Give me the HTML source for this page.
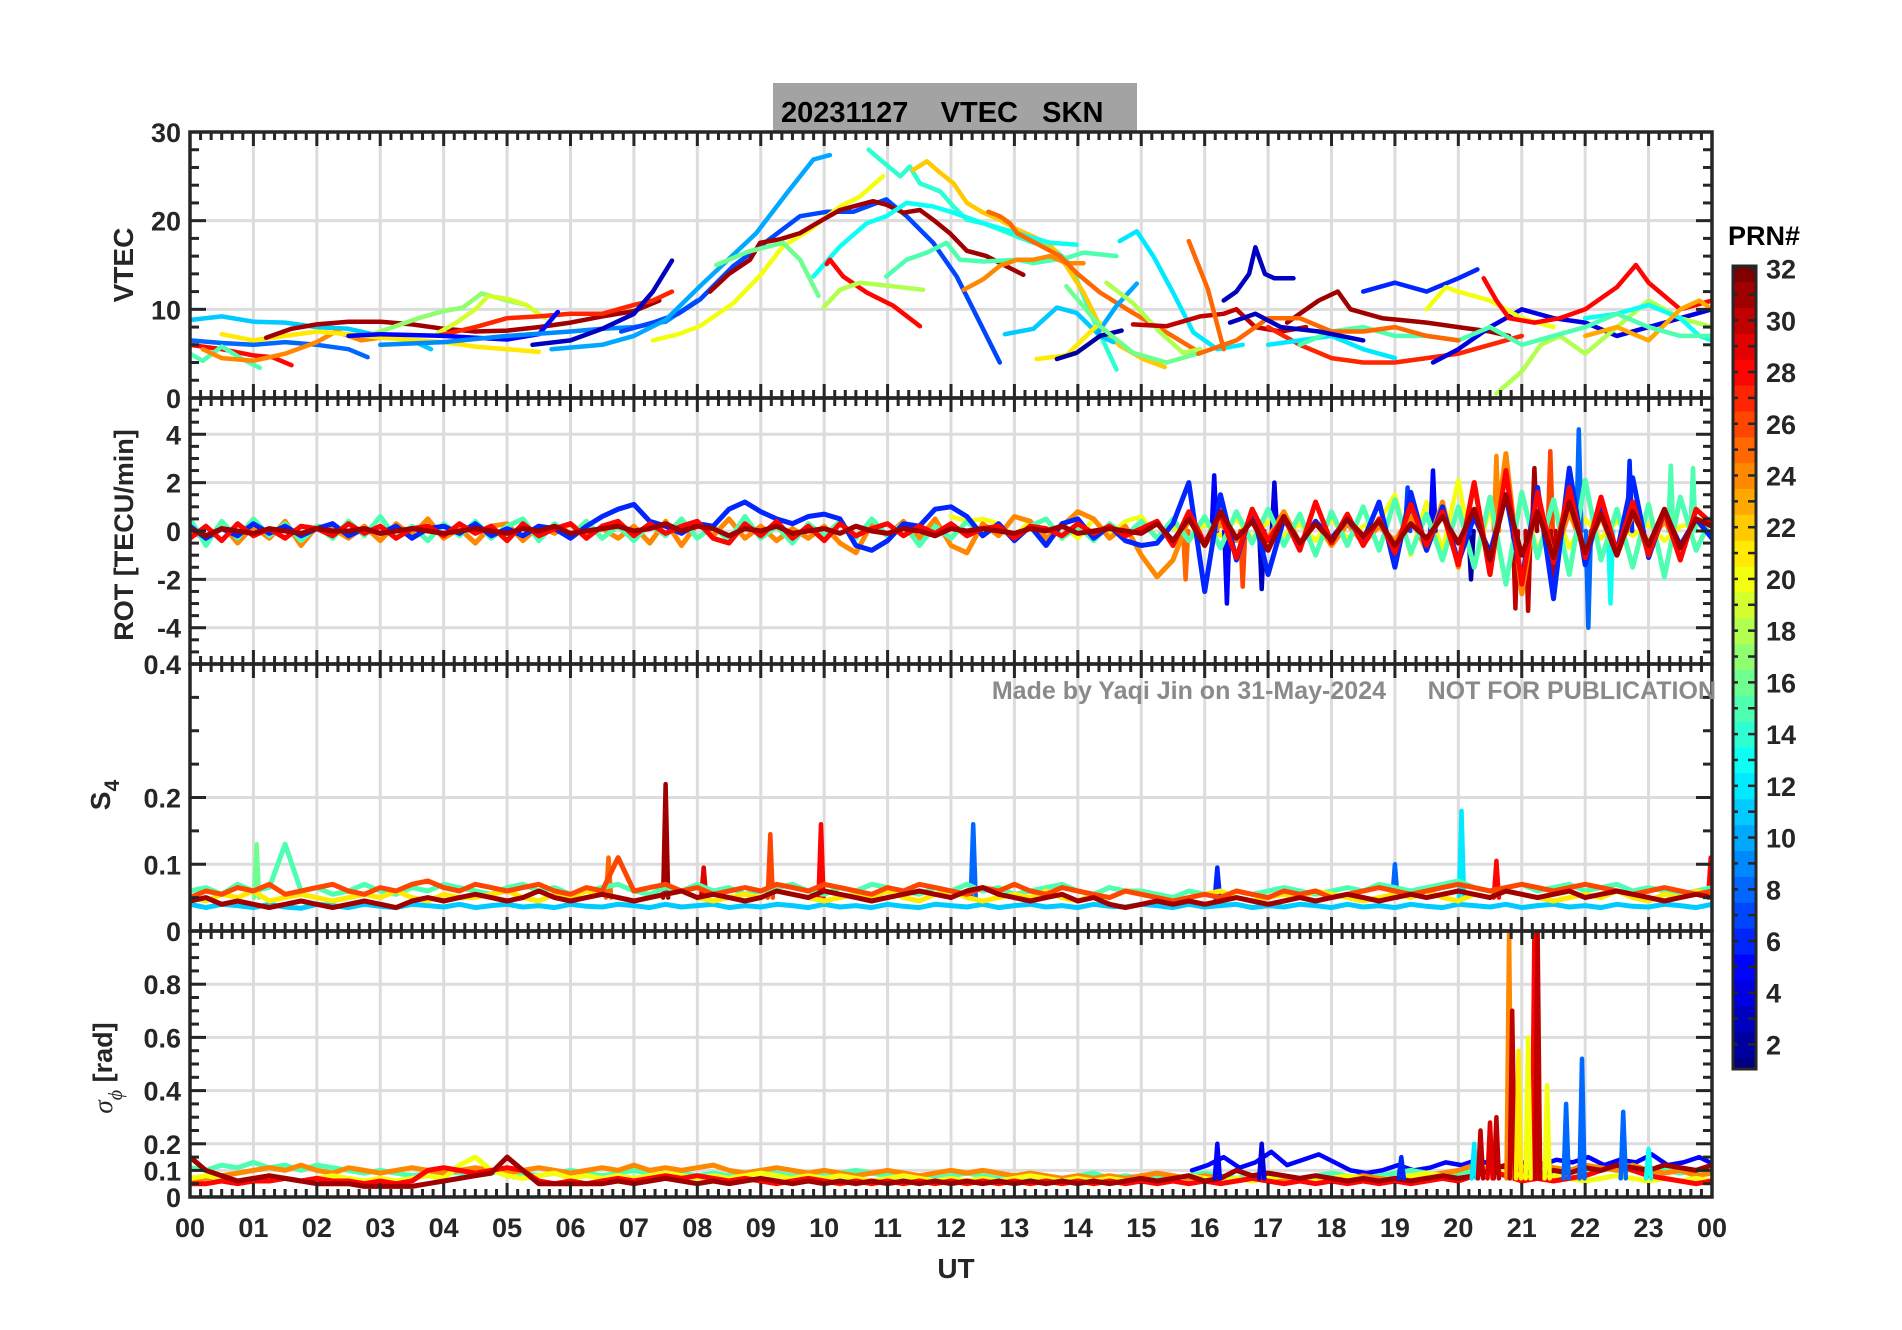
<!DOCTYPE html>
<html><head><meta charset="utf-8"><title>VTEC SKN 20231127</title>
<style>
html,body{margin:0;padding:0;background:#fff;}
svg{display:block;font-family:"Liberation Sans",Arial,sans-serif;font-weight:bold;}
</style></head>
<body>
<svg id="chart" width="1902" height="1330" viewBox="0 0 1902 1330" xmlns="http://www.w3.org/2000/svg">
<rect x="0" y="0" width="1902" height="1330" fill="#fff"/>
<rect x="773" y="83" width="364" height="50" fill="#a3a3a3"/>
<text x="781" y="122" font-size="29" fill="#000" xml:space="preserve">20231127    VTEC   SKN</text>
<g id="grid"></g>
<g id="series"></g>
<g id="axes"></g>
<text x="1386" y="699" text-anchor="end" font-size="25" fill="#8a8a8a">Made by Yaqi Jin on 31-May-2024</text>
<text x="1716" y="699" text-anchor="end" font-size="25" fill="#8a8a8a">NOT FOR PUBLICATION</text>
<text x="956" y="1278" text-anchor="middle" font-size="28" fill="#262626">UT</text>
<text transform="translate(133,265) rotate(-90)" text-anchor="middle" font-size="28" fill="#262626">VTEC</text>
<text transform="translate(133,535) rotate(-90)" text-anchor="middle" font-size="27" fill="#262626">ROT [TECU/min]</text>
<text transform="translate(110,795) rotate(-90)" text-anchor="middle" font-size="28" fill="#262626">S<tspan dy="9" font-size="21">4</tspan></text>
<text transform="translate(112,1068) rotate(-90)" text-anchor="middle" font-size="27" fill="#262626"><tspan font-style="italic" font-family="Liberation Serif, serif" font-weight="normal">σ</tspan><tspan dy="10" font-size="20" font-style="italic" font-family="Liberation Serif, serif" font-weight="normal">ϕ</tspan><tspan dy="-10"> [rad]</tspan></text>
<g id="colorbar"></g>
</svg>
<script>
// ---------- DATA ----------
const hourLabels=["00","01","02","03","04","05","06","07","08","09","10","11","12","13","14","15","16","17","18","19","20","21","22","23","00"];
const vtecTicks=[0,10,20,30];
const rotTicks=[-4,-2,0,2,4];
const s4Ticks=[0,0.1,0.2,0.4];
const sigTicks=[0,0.1,0.2,0.4,0.6,0.8];
const prnTicks=[2,4,6,8,10,12,14,16,18,20,22,24,26,28,30,32];

const vtecPrn=[11,8,28,15,24,21,31,17,19,27,5,9,3,7,10,20,31,14,22,13,16,28,18,15,24,25,11,10,12,21,2,18,16,30,3,25,27,31,6,4,20,28,18,13,23,12,15,25,3];
const vtecTracks=[
[[0,8.8],[0.5,9.2],[1,8.6],[1.5,8.5],[2,8],[2.5,7.8],[3,7],[3.5,6.5],[3.8,5.5]],
[[0,6.5],[0.5,6.2],[1,6],[1.5,6.3],[2,6],[2.5,5.5],[2.8,4.6]],
[[0,6],[0.5,5.5],[1,4.8],[1.3,4.6],[1.6,3.7]],
[[0,5],[0.2,4.2],[0.5,5.8],[0.8,4.5],[1.1,3.4]],
[[0.2,5.5],[0.5,4.5],[1,4.2],[1.5,5],[2,6.3],[2.3,7.5],[2.7,6.5],[3,6.8]],
[[0.5,7.2],[1,6.5],[1.5,7],[2,7.5],[2.5,7.2],[3,6.8],[4,6.3],[4.5,5.8],[5,5.5],[5.5,5.2]],
[[1.2,6.8],[1.6,7.8],[2,8.3],[2.5,8.6],[3,8.6],[3.5,8.3],[4,7.8],[4.5,7.5],[5,7.6],[5.5,8],[6,8.5],[6.5,9.2],[7,9.8],[7.4,11]],
[[2.8,7],[3.2,8],[3.6,9],[4,9.8],[4.3,10.2],[4.6,11.8],[5,11],[5.3,10.5]],
[[3.9,7.3],[4.2,8.5],[4.5,10],[4.7,11.5],[5,11.2],[5.3,10.5],[5.6,9]],
[[3.9,7],[4.5,8],[5,9],[5.5,9.2],[6,9.5],[6.5,9.5],[7,10.5],[7.3,11],[7.6,12]],
[[2.5,7],[3,7.2],[4,7],[4.5,6.8],[5,6.6],[5.5,7.2],[5.8,9.7]],
[[3,6],[4,6.3],[5,7],[6,7.5],[6.5,7.8],[7,8],[7.5,8.6],[8,11]],
[[5.4,6],[6,6.5],[6.5,7.8],[7,9.5],[7.3,12],[7.6,15.5]],
[[6.8,7.5],[7.3,8.5],[7.7,9.5],[8.04,11.1],[8.57,14.9],[8.99,17.1],[9.62,20.5],[10.04,21],[10.46,21],[10.98,22.4],[11.3,20.5],[11.72,17.5],[12.09,13.7],[12.35,10],[12.77,4]],
[[5.7,5.5],[6.5,6],[7,7],[7.5,8.8],[8.04,12.6],[8.93,18.6],[9.41,23.1],[9.83,26.9],[10.09,27.4]],
[[7.3,6.5],[7.7,7.2],[8.04,8.1],[8.57,10.7],[8.99,13.8],[9.35,17.1],[9.78,19],[10.25,21.6],[10.56,22.7],[10.93,25]],
[[8.2,12],[8.5,14],[8.83,15.6],[8.99,17.5],[9.3,17.9],[9.62,18.6],[9.88,19.7],[10.25,21.2],[10.77,22.2],[10.98,21.8],[11.25,20.9],[11.51,21.2],[11.72,20.1],[11.98,18.6],[12.25,16.6],[12.56,16],[13.14,13.9]],
[[10.7,28],[10.88,26.9],[11.2,25],[11.35,26.1],[11.51,24.2],[11.83,23.3],[12.04,21.6],[12.25,20.1],[12.51,19.7],[12.77,19],[13.04,18.2],[13.3,17.5],[13.56,17.1],[13.82,15.6],[13.98,13.4],[14.24,8.9],[14.61,3.2]],
[[11.4,25.7],[11.62,26.7],[11.83,25.4],[12.04,24.2],[12.25,22],[12.51,20.9],[12.77,20.1],[13.04,19],[13.3,18.2],[13.56,17.3],[13.82,14.9],[14.09,11.9],[14.35,8.1],[14.66,5.9],[15.03,4.4],[15.37,3.5]],
[[9.83,13.7],[10.25,17.1],[10.67,19.7],[10.98,20.5],[11.3,22],[11.72,21.6],[12.04,20.9],[12.51,19.7],[13.04,18.6],[13.56,17.5],[13.98,17.3]],
[[8.3,15],[8.8,16.5],[9.35,17.5],[9.62,15.6],[9.91,11.5]],
[[10.04,15.1],[10.09,15.6],[10.3,13.7],[10.67,11.9],[11.09,10.4],[11.51,8.1]],
[[9.99,10.2],[10.25,12.2],[10.56,13],[11.09,12.6],[11.56,12.2]],
[[10.98,13.7],[11.3,15.6],[11.62,16.4],[11.93,17.5],[12.14,15.6],[12.51,15.4],[13.04,15.6],[13.3,15.2],[13.82,15.8],[14.09,16.4],[14.61,16]],
[[12.2,12.2],[12.51,13.4],[12.77,14.9],[13.04,15.6],[13.3,15.6],[13.56,16],[13.82,15.2],[14.09,15.2]],
[[12.59,21],[12.77,20.5],[12.93,19.7],[13.04,18.6],[13.72,16],[13.98,14.1],[14.35,11.9],[14.87,9.6],[15.4,7.4],[15.93,5.1]],
[[12.85,7.2],[13.3,7.8],[13.67,10.2],[13.98,9.6],[14.35,7],[14.56,6.3]],
[[14.32,7.4],[14.61,10.4],[14.93,12.9]],
[[14.66,17.7],[14.93,18.8],[15.19,16],[15.5,11.9],[15.82,7.4],[16.2,5.5],[16.6,6]],
[[13.35,4.4],[13.82,4.8],[14.19,7.4],[14.35,8.5]],
[[13.67,4.4],[13.98,5.1],[14.35,7],[14.69,7.6]],
[[14.45,13],[14.87,10.7],[15.3,7.4],[15.66,5.1],[15.93,5.5]],
[[13.82,12.6],[14.35,8.1],[14.87,5.1],[15.4,4],[15.93,5.1]],
[[14.87,8.3],[15.4,8.1],[15.93,9.2],[16.3,9.5],[16.5,10],[16.8,8],[17.2,7.5],[17.6,8]],
[[16.3,11],[16.5,12],[16.7,14],[16.8,17],[16.95,14],[17.1,13.5],[17.4,13.5]],
[[15.75,17.7],[16.05,12.3],[16.3,5.5]],
[[17,8],[17.5,6],[18,4.5],[18.5,4],[19,4],[19.5,4.5],[20,5],[20.5,6],[21,7]],
[[17.3,8.5],[17.8,11],[18.1,12],[18.3,10],[18.8,9],[19.5,8.5],[20,8],[20.5,7.5],[20.8,7]],
[[18.5,12],[19,13],[19.5,12],[20,13.5],[20.3,14.5]],
[[19.6,4],[20,5.5],[20.5,8],[21,10],[21.5,9],[22,8.5],[22.5,7],[23,8],[23.5,9],[24,10]],
[[19.5,10],[19.8,12.5],[20,12],[20.5,11],[21,9],[21.5,8]],
[[20.4,13.5],[20.6,11],[20.8,9],[21.2,8.5],[21.6,9],[22,10],[22.5,12.5],[22.8,15],[23,13],[23.5,10],[24,11]],
[[20.6,0.5],[21,3],[21.3,6],[21.6,7],[22,5],[22.5,8],[23,11],[23.5,9],[24,8]],
[[22,9],[22.5,9.5],[23,10.5],[23.5,9],[23.8,7],[24,6.5]],
[[22,7],[22.5,8],[23,6.5],[23.5,10],[23.8,11],[24,10]],
[[17,6],[17.5,6.5],[18,7],[18.5,5.5],[19,4.5]],
[[17.5,6],[18,7.5],[18.5,8],[19,7],[19.5,7],[20,6.5],[20.5,8],[21,6],[21.5,7],[22,8],[22.5,9.5],[23,8],[23.5,7],[24,7]],
[[15.9,5],[16.5,6.5],[17,9],[17.5,9],[18,7.5],[18.5,7.5],[19,8],[19.5,7],[20,6.5]],
[[16.4,8.5],[16.8,9.5],[17.2,8],[17.8,7.5],[18.5,6.5]]
];

const rotPrn=[31,28,15,6,24];
const rotStep=0.25;
const rotSeries=[
[0.1,-0.2,0.1,0,-0.1,0.1,0,-0.1,0.1,0,0,0.1,-0.1,0,0.1,0,-0.1,0,0.1,0,-0.1,0.1,0,0.2,-0.1,0,0.1,0.2,0,0.1,0.3,0,0.2,0.1,-0.2,0.1,0,0.2,-0.1,0,0.1,-0.1,0.2,0,-0.1,0.1,0,-0.2,0.1,0,0.1,0,-0.1,0.1,0,0.2,-0.1,0,0.1,0,-0.1,0.3,-0.4,0.5,-0.6,0.8,-0.3,0.4,-0.8,0.6,-0.5,0.3,-0.4,0.5,-0.2,0.4,-0.6,0.3,-0.3,0.6,-0.5,0.9,-1.2,1.5,-1.0,0.8,-1.1,1.2,-0.9,0.7,-1.0,0.8,-0.6,0.9,-0.7,0.5,0.2],
[-0.3,0.2,-0.4,0.3,-0.2,0.1,-0.3,0.2,0.1,-0.2,0.3,-0.1,0.2,-0.3,0.1,0.2,-0.2,0.3,-0.1,0.2,-0.4,0.3,-0.2,0.1,0.3,-0.3,0.2,0.4,-0.2,0.3,-0.1,0.2,0.4,-0.3,-0.5,0.3,-0.2,0.4,-0.3,0.2,-0.4,0.3,-0.2,0.1,0.3,-0.2,0.2,-0.1,0.3,-0.2,0.1,0.2,-0.3,0.2,0.1,-0.2,0.3,-0.1,0.2,-0.2,0.1,0.4,-0.6,0.8,-0.5,0.7,-1.1,0.9,-0.4,0.6,-0.8,1.2,-0.5,0.7,-0.6,0.5,-0.9,1.1,-0.6,0.8,-1.4,2.0,-1.8,2.5,-2.2,1.6,-1.3,1.8,-1.1,1.4,-0.9,1.2,-1.0,0.8,-1.2,0.9,0.3],
[0.5,-0.6,0.4,-0.3,0.5,-0.2,0.3,-0.4,0.2,-0.3,0.4,-0.2,0.6,-0.3,0.2,-0.4,0.3,-0.2,0.4,-0.3,0.2,0.5,-0.4,0.3,-0.2,0.4,-0.3,0.2,-0.4,0.3,-0.2,0.5,-0.3,0.2,-0.4,0.6,-0.3,0.2,-0.5,0.3,-0.2,0.4,-0.3,0.5,-0.2,0.3,-0.6,0.2,-0.3,0.4,-0.2,0.3,-0.4,0.2,0.5,-0.3,0.2,-0.4,0.3,-0.2,0.4,-0.3,0.5,-0.4,0.6,-0.7,0.8,-0.5,0.9,-0.6,0.7,-1.0,0.8,-0.6,1.0,-0.8,1.3,-0.9,0.7,-1.2,1.0,-1.5,1.4,-2.2,1.6,-1.1,1.3,-1.8,2.1,-1.2,0.9,-1.5,1.1,-1.9,1.4,-0.8,0.6],
[0.2,-0.3,0.1,-0.2,0.3,-0.1,0.2,-0.2,0.1,0.3,-0.2,0.1,-0.1,0.2,-0.3,0.1,0.2,-0.1,0.3,-0.2,0.1,-0.2,0.2,0.1,-0.3,0.2,0.6,0.9,1.1,0.4,0.2,-0.1,0.3,0.2,0.9,1.2,0.8,0.5,0.3,0.6,0.7,0.5,-0.6,-0.8,-0.4,0.3,0.2,0.9,1.0,0.6,-0.2,0.3,-0.4,0.2,-0.6,0.3,0.5,-0.3,0.2,-0.4,-0.6,-0.5,0.3,2.0,-2.5,1.5,-1.2,0.9,-1.8,0.5,-0.6,0.4,-0.3,0.5,-0.4,1.2,-1.5,1.6,-0.8,1.0,-1.3,0.6,-0.9,1.5,-2.0,1.8,-2.8,2.6,-1.4,1.2,-0.9,2.2,-1.1,0.8,-0.6,0.5,-0.3],
[0.1,-0.4,0.3,-0.5,0.2,-0.3,0.4,-0.6,0.2,0.1,-0.3,0.2,-0.4,0.3,-0.2,0.5,-0.3,0.1,-0.5,0.2,0.3,-0.4,0.2,-0.1,0.3,-0.2,0.1,-0.3,0.2,-0.5,0.4,-0.6,0.3,-0.2,0.5,-0.3,0.2,-0.4,0.1,-0.3,0.2,-0.5,-0.9,0.3,-0.2,0.4,-0.3,0.5,-0.6,-0.9,0.3,-0.2,0.6,0.4,-0.3,0.2,0.8,0.5,-0.3,0.2,-1.0,-1.9,-1.2,0.5,-0.6,0.3,-0.4,0.6,-0.3,0.8,-0.5,0.4,-0.6,0.3,-0.5,0.2,-0.4,0.6,-0.8,1.2,-1.5,2.0,-1.8,3.2,-2.6,1.5,-1.2,0.8,-0.9,0.6,-1.0,0.7,-0.5,0.4,-0.6,0.5,0.3]
];
const rotYellowStart=12;
const rotYellow=[0.6,0.4,0.5,0.3,-0.2,0.4,-0.5,0.3,-0.3,0.5,-0.2,0.4,0.6,-0.3,0.2,-0.4,0.3,-0.2,0.5,-0.3,0.4,-0.2,0.3,-0.4,0.5,-0.3,0.2,0.4,1.5,-1.0,1.2,-0.8,2.1,-1.5,1.0,-2.2,1.6,-0.9,1.2,-0.7,0.5,-0.3,0.4,-0.2,0.3,-0.4,0.2,0.3,-0.1];
const rotSpikeHours=[16.15,16.35,16.6,16.9,17.1,15.7,19.6,20.6,20.9,21.1,21.45,21.5,21.9,22.05,22.7,23.35,20.2,19.2,21.2,22.4,23.7];
const rotSpikeValues=[2.3,-3.0,-2.3,-2.4,2.0,-2.0,2.5,3.1,-3.2,-3.3,3.3,-2.6,4.2,-4.0,2.9,2.7,-2.0,1.8,2.6,-3.0,2.6];
const rotSpikePrn=[5,5,26,3,4,25,5,24,30,30,26,30,8,8,6,15,2,7,31,13,15];

const s4Prn=[11,15,21,26,31];
const s4Step=0.25;
const s4Series=[
[0.04,0.035,0.04,0.038,0.035,0.04,0.036,0.034,0.04,0.038,0.035,0.04,0.037,0.035,0.04,0.038,0.036,0.04,0.035,0.038,0.04,0.036,0.038,0.035,0.04,0.037,0.036,0.04,0.038,0.035,0.04,0.036,0.038,0.04,0.035,0.038,0.036,0.04,0.038,0.035,0.04,0.036,0.038,0.035,0.04,0.037,0.035,0.04,0.038,0.036,0.04,0.035,0.038,0.04,0.036,0.038,0.035,0.04,0.037,0.036,0.04,0.038,0.035,0.04,0.036,0.038,0.04,0.035,0.038,0.036,0.04,0.038,0.035,0.04,0.036,0.038,0.035,0.04,0.037,0.035,0.04,0.038,0.036,0.04,0.035,0.038,0.04,0.036,0.038,0.035,0.04,0.037,0.036,0.04,0.038,0.035,0.04],
[0.06,0.065,0.055,0.07,0.06,0.065,0.13,0.06,0.065,0.055,0.06,0.07,0.06,0.055,0.065,0.06,0.07,0.065,0.06,0.055,0.065,0.07,0.06,0.065,0.055,0.06,0.065,0.07,0.06,0.055,0.065,0.06,0.07,0.06,0.065,0.055,0.06,0.065,0.07,0.06,0.055,0.065,0.06,0.07,0.065,0.06,0.055,0.065,0.06,0.07,0.06,0.065,0.055,0.06,0.065,0.07,0.06,0.055,0.065,0.06,0.06,0.055,0.05,0.06,0.055,0.05,0.06,0.055,0.06,0.065,0.06,0.055,0.06,0.065,0.06,0.07,0.065,0.06,0.065,0.07,0.075,0.065,0.06,0.065,0.07,0.06,0.065,0.07,0.06,0.065,0.07,0.06,0.065,0.06,0.055,0.06,0.065],
[0.05,0.045,0.055,0.05,0.06,0.045,0.05,0.055,0.05,0.045,0.05,0.055,0.05,0.06,0.05,0.045,0.055,0.05,0.05,0.055,0.06,0.05,0.045,0.055,0.05,0.06,0.055,0.05,0.045,0.05,0.055,0.06,0.05,0.045,0.05,0.055,0.05,0.06,0.055,0.05,0.045,0.05,0.055,0.05,0.06,0.05,0.045,0.055,0.06,0.05,0.045,0.05,0.055,0.05,0.06,0.05,0.045,0.055,0.05,0.06,0.055,0.05,0.045,0.05,0.055,0.06,0.05,0.045,0.05,0.055,0.05,0.06,0.055,0.05,0.045,0.05,0.055,0.05,0.06,0.05,0.045,0.055,0.05,0.06,0.055,0.05,0.045,0.05,0.055,0.05,0.06,0.05,0.045,0.055,0.05,0.06,0.055],
[0.05,0.06,0.055,0.065,0.06,0.07,0.055,0.06,0.065,0.07,0.06,0.055,0.065,0.06,0.07,0.075,0.065,0.06,0.07,0.065,0.06,0.065,0.07,0.06,0.055,0.065,0.06,0.11,0.06,0.065,0.07,0.06,0.065,0.055,0.06,0.065,0.06,0.07,0.065,0.06,0.07,0.065,0.06,0.055,0.065,0.06,0.07,0.065,0.06,0.055,0.065,0.06,0.07,0.06,0.055,0.065,0.06,0.055,0.05,0.06,0.055,0.05,0.045,0.05,0.055,0.05,0.06,0.055,0.05,0.06,0.055,0.06,0.05,0.055,0.06,0.065,0.06,0.055,0.06,0.065,0.07,0.065,0.06,0.065,0.07,0.065,0.06,0.065,0.07,0.065,0.06,0.055,0.06,0.065,0.06,0.055,0.06],
[0.045,0.05,0.04,0.045,0.04,0.035,0.04,0.045,0.04,0.035,0.04,0.045,0.04,0.035,0.045,0.05,0.045,0.05,0.055,0.05,0.045,0.05,0.06,0.05,0.045,0.05,0.055,0.05,0.045,0.05,0.055,0.06,0.05,0.055,0.05,0.045,0.05,0.06,0.055,0.05,0.06,0.055,0.05,0.045,0.05,0.055,0.06,0.055,0.05,0.06,0.065,0.055,0.05,0.045,0.05,0.055,0.045,0.05,0.04,0.035,0.04,0.045,0.04,0.045,0.04,0.045,0.05,0.045,0.04,0.045,0.05,0.045,0.05,0.055,0.05,0.045,0.05,0.055,0.05,0.055,0.06,0.055,0.05,0.06,0.055,0.05,0.055,0.06,0.05,0.055,0.06,0.055,0.05,0.045,0.05,0.055,0.05]
];
const s4SpikeHours=[7.5,9.15,9.95,6.6,12.35,20.05,1.05,20.6,23.98,16.2,8.1,19.0];
const s4SpikeValues=[0.22,0.145,0.16,0.11,0.16,0.18,0.13,0.105,0.11,0.095,0.095,0.1];
const s4SpikePrn=[31,26,28,25,8,12,16,28,28,6,29,8];

const sigPrn=[15,24,20,28,31];
const sigStep=0.25;
const sigSeries=[
[0.11,0.1,0.12,0.11,0.13,0.11,0.12,0.1,0.12,0.11,0.1,0.09,0.1,0.09,0.08,0.09,0.1,0.09,0.08,0.09,0.1,0.09,0.08,0.09,0.1,0.09,0.08,0.09,0.1,0.09,0.08,0.09,0.08,0.09,0.08,0.09,0.1,0.09,0.08,0.09,0.08,0.09,0.1,0.09,0.08,0.09,0.08,0.07,0.08,0.09,0.08,0.07,0.08,0.07,0.08,0.07,0.08,0.09,0.07,0.08,0.07,0.08,0.07,0.08,0.09,0.08,0.07,0.08,0.09,0.08,0.07,0.08,0.09,0.08,0.07,0.08,0.09,0.1,0.09,0.08,0.09,0.1,0.09,0.08,0.09,0.1,0.11,0.1,0.09,0.1,0.11,0.1,0.09,0.1,0.09,0.1,0.09],
[0.06,0.07,0.08,0.09,0.1,0.11,0.1,0.12,0.1,0.09,0.11,0.1,0.09,0.1,0.11,0.1,0.09,0.1,0.11,0.1,0.09,0.1,0.11,0.1,0.09,0.1,0.11,0.1,0.12,0.1,0.11,0.1,0.11,0.12,0.1,0.09,0.1,0.11,0.1,0.09,0.1,0.09,0.08,0.09,0.1,0.09,0.08,0.09,0.1,0.09,0.1,0.09,0.08,0.09,0.08,0.07,0.08,0.07,0.08,0.07,0.08,0.09,0.08,0.07,0.08,0.07,0.06,0.07,0.06,0.07,0.06,0.07,0.06,0.07,0.08,0.07,0.06,0.07,0.08,0.09,0.1,0.12,0.1,0.09,0.11,0.13,0.11,0.1,0.12,0.11,0.1,0.12,0.1,0.09,0.1,0.08,0.09],
[0.07,0.08,0.07,0.06,0.07,0.08,0.07,0.06,0.07,0.08,0.07,0.06,0.07,0.06,0.07,0.08,0.07,0.12,0.15,0.1,0.08,0.07,0.08,0.09,0.07,0.08,0.07,0.08,0.07,0.08,0.09,0.08,0.07,0.08,0.07,0.08,0.09,0.08,0.07,0.08,0.07,0.08,0.07,0.06,0.07,0.08,0.07,0.06,0.07,0.06,0.07,0.06,0.07,0.08,0.07,0.06,0.07,0.06,0.07,0.06,0.07,0.06,0.07,0.08,0.07,0.06,0.07,0.06,0.07,0.08,0.07,0.06,0.07,0.08,0.07,0.06,0.07,0.08,0.09,0.08,0.07,0.08,0.1,0.09,0.08,0.07,0.08,0.07,0.06,0.07,0.08,0.07,0.06,0.07,0.06,0.07,0.06],
[0.05,0.05,0.06,0.05,0.06,0.06,0.07,0.06,0.07,0.06,0.06,0.05,0.06,0.05,0.06,0.1,0.11,0.1,0.09,0.1,0.11,0.1,0.06,0.05,0.06,0.05,0.06,0.07,0.06,0.07,0.08,0.07,0.08,0.07,0.06,0.07,0.06,0.05,0.06,0.07,0.06,0.05,0.06,0.05,0.06,0.05,0.06,0.05,0.06,0.05,0.06,0.05,0.06,0.05,0.06,0.05,0.06,0.05,0.06,0.05,0.06,0.05,0.06,0.05,0.06,0.05,0.06,0.07,0.06,0.05,0.06,0.05,0.06,0.05,0.06,0.05,0.06,0.05,0.06,0.07,0.06,0.08,0.1,0.08,0.06,0.07,0.06,0.07,0.08,0.1,0.12,0.1,0.08,0.07,0.06,0.05,0.06],
[0.15,0.1,0.08,0.06,0.07,0.08,0.07,0.06,0.05,0.05,0.05,0.04,0.04,0.04,0.04,0.05,0.06,0.07,0.08,0.09,0.15,0.1,0.05,0.05,0.05,0.05,0.05,0.06,0.05,0.06,0.07,0.06,0.05,0.06,0.05,0.06,0.07,0.06,0.05,0.06,0.05,0.06,0.05,0.06,0.05,0.06,0.05,0.06,0.05,0.06,0.05,0.06,0.05,0.06,0.05,0.06,0.05,0.06,0.05,0.06,0.07,0.06,0.07,0.08,0.06,0.07,0.1,0.08,0.09,0.08,0.07,0.08,0.07,0.06,0.07,0.06,0.07,0.06,0.07,0.08,0.07,0.08,0.1,0.12,0.1,0.08,0.1,0.09,0.11,0.1,0.12,0.11,0.1,0.12,0.11,0.1,0.12]
];
const sigBlueStart=15.8;
const sigBlue=[0.1,0.12,0.15,0.11,0.13,0.17,0.12,0.14,0.16,0.13,0.1,0.09,0.1,0.12,0.1,0.11,0.13,0.12,0.14,0.12,0.11,0.13,0.12,0.14,0.13,0.15,0.12,0.14,0.13,0.16,0.12,0.13,0.15,0.12,0.11];
const sigSpikeHours=[20.8,20.85,21.2,21.25,21.4,21.95,22.6,20.6,20.5,21.1,20.25,16.2,16.9,20.35,21.7,20.95,19.1,23.0];
const sigSpikeValues=[1.0,0.7,1.0,1.0,0.42,0.52,0.32,0.3,0.28,0.6,0.2,0.2,0.2,0.25,0.35,0.55,0.15,0.18];
const sigSpikePrn=[24,30,28,30,20,8,8,30,29,20,12,5,4,30,8,21,6,13];

// ---------- AXES ----------
const X0=190,X1=1712;
const panels=[
 {name:'vtec',top:132,bot:398,min:0,max:30,ticks:vtecTicks,minor:2},
 {name:'rot',top:398,bot:664,min:-5.5,max:5.5,ticks:rotTicks,minor:0.5},
 {name:'s4',top:664,bot:931,min:0,max:0.4,ticks:s4Ticks,minor:0.05},
 {name:'sigma',top:931,bot:1197,min:0,max:1,ticks:sigTicks,minor:0.05}
];
function xs(h){return X0+(X1-X0)*h/24;}
function ys(p,v){return p.bot-(p.bot-p.top)*(v-p.min)/(p.max-p.min);}
function jet(prn){
  const t=Math.max(0,Math.min(1,(prn-1)/31));
  const f=x=>Math.round(255*Math.max(0,Math.min(1,1.5-Math.abs(4*t-x))));
  return `rgb(${f(3)},${f(2)},${f(1)})`;
}
const NS='http://www.w3.org/2000/svg';
function mk(tag,attrs,parent){const e=document.createElementNS(NS,tag);for(const k in attrs)e.setAttribute(k,attrs[k]);parent.appendChild(e);return e;}
const gGrid=document.getElementById('grid'),gSer=document.getElementById('series'),gAx=document.getElementById('axes'),gCb=document.getElementById('colorbar');
const defs=mk('defs',{},document.getElementById('chart'));
const AX='#262626';

panels.forEach((p,pi)=>{
  const cp=mk('clipPath',{id:'clip'+pi},defs);
  mk('rect',{x:X0,y:p.top,width:X1-X0,height:p.bot-p.top},cp);
  for(let h=1;h<24;h++){const l=mk('line',{x1:xs(h),x2:xs(h),y1:p.top,y2:p.bot,stroke:'#dcdcdc','stroke-width':3},gGrid);
    
    }
  p.ticks.forEach(v=>{if(v>p.min&&v<p.max){const l=mk('line',{x1:X0,x2:X1,y1:ys(p,v),y2:ys(p,v),stroke:'#dcdcdc','stroke-width':3},gGrid);
    
    }});
});

function drawSeries(pi,pts,prn,name,w){
  const p=panels[pi];
  const d=pts.map((q,i)=>(i?'L':'M')+xs(q[0]).toFixed(1)+' '+ys(p,q[1]).toFixed(1)).join(' ');
  const e=mk('path',{d:d,fill:'none',stroke:jet(prn),'stroke-width':w||4.5,'stroke-linejoin':'round','stroke-linecap':'round','clip-path':'url(#clip'+pi+')'},gSer);
  
  
}
function stepPts(start,step,vals){return vals.map((v,i)=>[start+i*step,v]);}
function drawSpikes(pi,hours,vals,prns,base,name){
  hours.forEach((h,i)=>{drawSeries(pi,[[h-0.04,base],[h,vals[i]],[h+0.04,base]],prns[i],name,4.5);});
}
vtecTracks.forEach((t,i)=>drawSeries(0,t,vtecPrn[i],'vtec-line-prn'+vtecPrn[i],4.5));
drawSeries(1,stepPts(rotYellowStart,rotStep,rotYellow),20,'rot-line-prn20',4.5);
drawSpikes(1,rotSpikeHours,rotSpikeValues,rotSpikePrn,0,'rot-spike');
[4,2,3,1,0].forEach(i=>drawSeries(1,stepPts(0,rotStep,rotSeries[i]),rotPrn[i],'rot-line-prn'+rotPrn[i],5));
drawSpikes(2,s4SpikeHours,s4SpikeValues,s4SpikePrn,0.05,'s4-spike');
s4Series.forEach((s,i)=>drawSeries(2,stepPts(0,s4Step,s),s4Prn[i],'s4-line-prn'+s4Prn[i],5));
drawSeries(3,stepPts(sigBlueStart,sigStep,sigBlue),5,'sigma-line-prn5',4.5);
sigSeries.forEach((s,i)=>drawSeries(3,stepPts(0,sigStep,s),sigPrn[i],'sigma-line-prn'+sigPrn[i],5));
drawSpikes(3,sigSpikeHours,sigSpikeValues,sigSpikePrn,0.07,'sigma-spike');

panels.forEach((p,pi)=>{
  const fr=mk('rect',{x:X0,y:p.top,width:X1-X0,height:p.bot-p.top,fill:'none',stroke:AX,'stroke-width':3.5},gAx);
  
  
  for(let m=0;m<=144;m++){
    const x=xs(m/6),L=(m%6===0)?14:8;
    mk('line',{x1:x,x2:x,y1:p.top,y2:p.top+L,stroke:AX,'stroke-width':3},gAx);
    mk('line',{x1:x,x2:x,y1:p.bot,y2:p.bot-L,stroke:AX,'stroke-width':3},gAx);
  }
  for(let v=p.min;v<=p.max+1e-9;v+=p.minor){
    const y=ys(p,v);const major=p.ticks.some(t=>Math.abs(t-v)<1e-6);const L=major?16:9;
    mk('line',{x1:X0,x2:X0+L,y1:y,y2:y,stroke:AX,'stroke-width':3},gAx);
    mk('line',{x1:X1,x2:X1-L,y1:y,y2:y,stroke:AX,'stroke-width':3},gAx);
  }
  p.ticks.forEach(v=>{
    const t=mk('text',{x:181,y:ys(p,v)+10,'text-anchor':'end','font-size':27,fill:AX},gAx);
    t.textContent=String(v);
    
    
  });
});
hourLabels.forEach((s,i)=>{
  const t=mk('text',{x:xs(i),y:1237,'text-anchor':'middle','font-size':27,fill:AX},gAx);
  t.textContent=s;
  
  
});

// colorbar
const CB={x:1733,w:23,top:266,bot:1069,min:1.05,max:32.1};
function cy(v){return CB.bot-(CB.bot-CB.top)*(v-CB.min)/(CB.max-CB.min);}
for(let k=1;k<=32;k++){
  const r=mk('rect',{x:CB.x,y:Math.max(CB.top,cy(k+0.5)),width:CB.w,height:Math.min(CB.bot,cy(k-0.5))-Math.max(CB.top,cy(k+0.5))+0.6,fill:jet(k)},gCb);
  
  
}
const cbf=mk('rect',{x:CB.x,y:CB.top,width:CB.w,height:CB.bot-CB.top,fill:'none',stroke:AX,'stroke-width':3},gCb);


for(let k=2;k<=32;k++){
  mk('line',{x1:CB.x+CB.w,x2:CB.x+CB.w-8,y1:cy(k),y2:cy(k),stroke:AX,'stroke-width':2.5},gCb);
  mk('line',{x1:CB.x,x2:CB.x+5,y1:cy(k),y2:cy(k),stroke:AX,'stroke-width':2.5},gCb);
}
prnTicks.forEach(v=>{
  const t=mk('text',{x:1766,y:cy(v)+10,'font-size':27,fill:AX},gCb);
  t.textContent=String(v);
  
  
});
const ct=mk('text',{x:1728,y:245,'font-size':27,fill:'#000'},gCb);
ct.textContent='PRN#';


</script>
</body></html>
